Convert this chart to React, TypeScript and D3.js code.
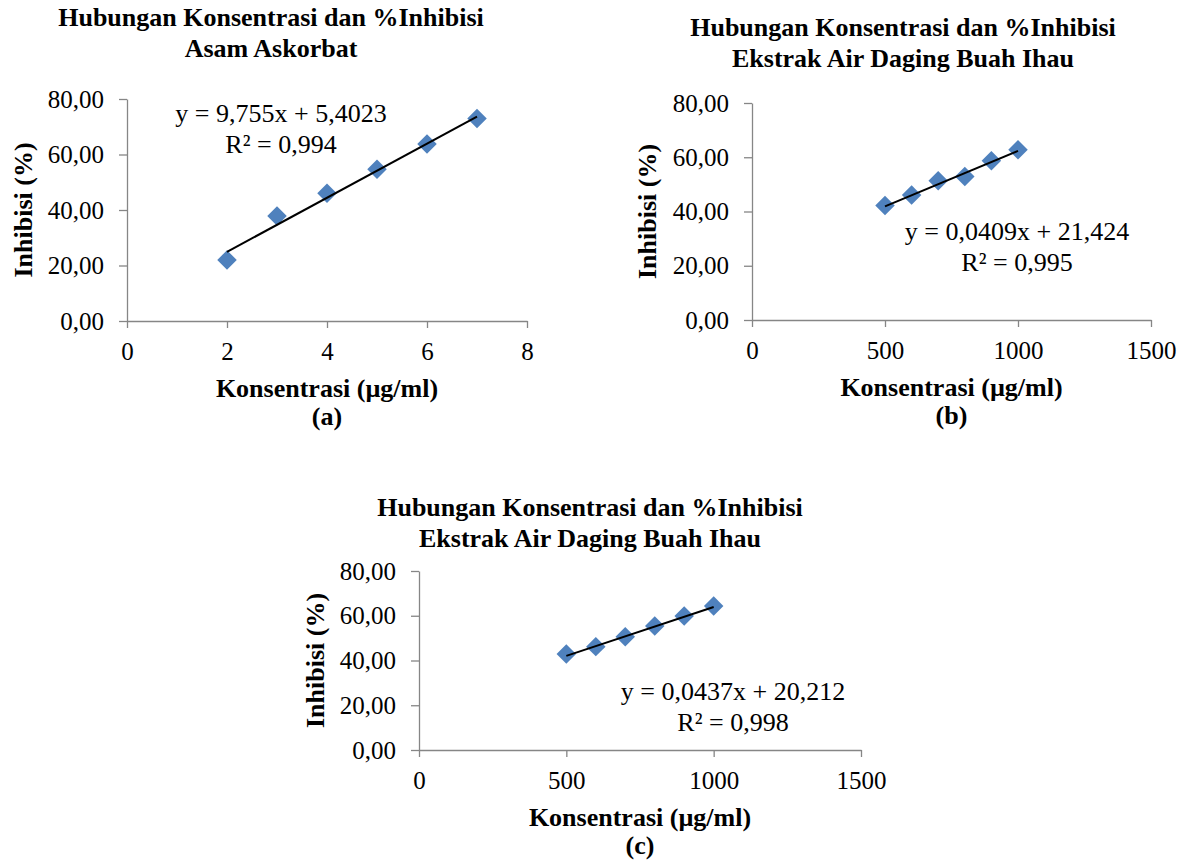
import React, { useRef, useEffect } from 'react';
import * as d3 from 'd3';

// data
const yTicks = [0, 20, 40, 60, 80];

const konsA = [2, 3, 4, 5, 6, 7];
const inhibisiA = [22.0, 37.8, 46.0, 54.7, 63.8, 73.0];
const xTicksA = [0, 2, 4, 6, 8];
const slopeA = 9.755;
const interceptA = 5.4023;

const konsB = [500, 600, 700, 800, 900, 1000];
const inhibisiB = [42.2, 46.1, 51.3, 52.9, 58.7, 62.8];
const xTicksB = [0, 500, 1000, 1500];
const slopeB = 0.0409;
const interceptB = 21.424;

const konsC = [500, 600, 700, 800, 900, 1000];
const inhibisiC = [42.9, 46.2, 50.6, 55.4, 59.9, 64.4];
const xTicksC = [0, 500, 1000, 1500];
const slopeC = 0.0437;
const interceptC = 20.212;

const titleLine1 = 'Hubungan Konsentrasi dan %Inhibisi';
const titleA = 'Asam Askorbat';
const titleBC = 'Ekstrak Air Daging Buah Ihau';
const xLabel = 'Konsentrasi (µg/ml)';
const yLabel = 'Inhibisi (%)';
const eqA = ['y = 9,755x + 5,4023', 'R² = 0,994'];
const eqB = ['y = 0,0409x + 21,424', 'R² = 0,995'];
const eqC = ['y = 0,0437x + 20,212', 'R² = 0,998'];

const FONT = '"Liberation Serif", "Times New Roman", serif';
const AXIS = '#868686';
const MARK = '#4F81BD';

const panels = [
  {
    xs: konsA, ys: inhibisiA, xTicks: xTicksA, slope: slopeA, intercept: interceptA,
    title: [titleLine1, titleA], eq: eqA, tag: '(a)',
    x0: 127, x1: 527, yTop: 99, yBot: 321,
    titleX: 271, titleY: 26, eqX: 281, eqY: 122, yLabX: 32,
  },
  {
    xs: konsB, ys: inhibisiB, xTicks: xTicksB, slope: slopeB, intercept: interceptB,
    title: [titleLine1, titleBC], eq: eqB, tag: '(b)',
    x0: 752, x1: 1151, yTop: 103, yBot: 320,
    titleX: 903, titleY: 36, eqX: 1017, eqY: 240, yLabX: 656,
  },
  {
    xs: konsC, ys: inhibisiC, xTicks: xTicksC, slope: slopeC, intercept: interceptC,
    title: [titleLine1, titleBC], eq: eqC, tag: '(c)',
    x0: 419, x1: 861, yTop: 571, yBot: 750,
    titleX: 590, titleY: 516, eqX: 733, eqY: 700, yLabX: 324,
  },
];

const fmtY = (d: number) => d3.format('.2f')(d).replace('.', ',');

export default function App() {
  const svgRef = useRef<SVGSVGElement>(null);

  useEffect(() => {
    const svg = d3.select(svgRef.current);
    svg.selectAll('*').remove();

    panels.forEach((p) => {
      const g = svg.append('g');
      const xScale = d3.scaleLinear().domain([p.xTicks[0], p.xTicks[p.xTicks.length - 1]]).range([p.x0, p.x1]);
      const yScale = d3.scaleLinear().domain([0, 80]).range([p.yBot, p.yTop]);

      // x axis
      const xa = g.append('g')
        .attr('transform', `translate(0,${p.yBot})`)
        .call(d3.axisBottom(xScale).tickValues(p.xTicks).tickFormat((d: any) => String(d)).tickSize(7).tickSizeOuter(0).tickPadding(14));
      // y axis
      const ya = g.append('g')
        .attr('transform', `translate(${p.x0},0)`)
        .call(d3.axisLeft(yScale).tickValues(yTicks).tickFormat((d: any) => fmtY(d)).tickSize(8).tickSizeOuter(0).tickPadding(15));

      [xa, ya].forEach((a) => {
        a.select('.domain').attr('stroke', AXIS).attr('stroke-width', 1.3);
        a.selectAll('.tick line').attr('stroke', AXIS).attr('stroke-width', 1.3);
        a.selectAll('.tick text').attr('fill', '#000').style('font-family', FONT).style('font-size', '25px');
      });

      // trend line
      const xMin = d3.min(p.xs) as number;
      const xMax = d3.max(p.xs) as number;
      const line = d3.line<number>().x((d) => xScale(d)).y((d) => yScale(p.slope * d + p.intercept));

      // markers
      const sym = d3.symbol().type(d3.symbolSquare).size(190);
      g.selectAll('.pt')
        .data(p.xs)
        .enter()
        .append('path')
        .attr('d', sym)
        .attr('fill', MARK)
        .attr('transform', (d, i) => `translate(${xScale(d)},${yScale(p.ys[i])}) rotate(45)`);

      g.append('path')
        .attr('d', line([xMin, xMax]))
        .attr('fill', 'none')
        .attr('stroke', '#000')
        .attr('stroke-width', 2);

      // equation text
      p.eq.forEach((t, i) => {
        g.append('text')
          .attr('x', p.eqX)
          .attr('y', p.eqY + i * 31)
          .attr('text-anchor', 'middle')
          .style('font-family', FONT)
          .style('font-size', '26px')
          .text(t);
      });

      // title
      p.title.forEach((t, i) => {
        g.append('text')
          .attr('x', p.titleX)
          .attr('y', p.titleY + i * 31)
          .attr('text-anchor', 'middle')
          .style('font-family', FONT)
          .style('font-size', '26px')
          .style('font-weight', 'bold')
          .text(t);
      });

      // axis titles
      const midX = (p.x0 + p.x1) / 2;
      g.append('text')
        .attr('x', midX)
        .attr('y', p.yBot + 76)
        .attr('text-anchor', 'middle')
        .style('font-family', FONT)
        .style('font-size', '26px')
        .style('font-weight', 'bold')
        .text(xLabel);
      g.append('text')
        .attr('x', midX)
        .attr('y', p.yBot + 104)
        .attr('text-anchor', 'middle')
        .style('font-family', FONT)
        .style('font-size', '26px')
        .style('font-weight', 'bold')
        .text(p.tag);

      g.append('text')
        .attr('transform', `translate(${p.yLabX},${(p.yTop + p.yBot) / 2}) rotate(-90)`)
        .attr('text-anchor', 'middle')
        .style('font-family', FONT)
        .style('font-size', '26px')
        .style('font-weight', 'bold')
        .text(yLabel);
    });
  }, []);

  return (
    <svg
      ref={svgRef}
      width={1187}
      height={865}
      style={{ position: 'absolute', left: 0, top: 0, background: '#fff' }}
    />
  );
}
